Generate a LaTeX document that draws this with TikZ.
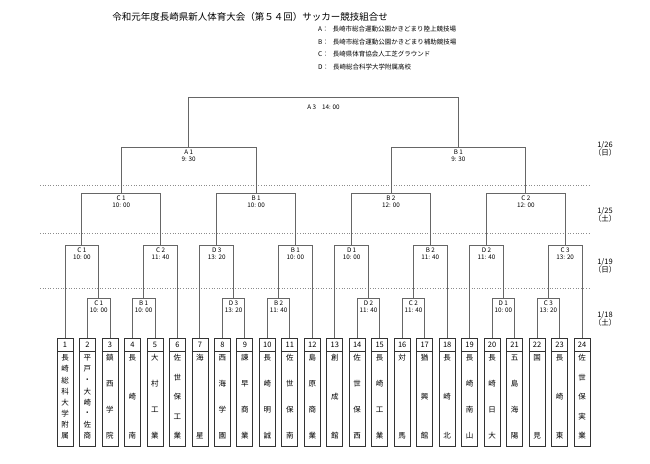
\documentclass[tikz,border=0pt]{standalone}
\usepackage{fontspec}
\setmainfont{Noto Sans CJK JP}
\usetikzlibrary{calc}
\tikzset{
 br/.style={draw=black!60, line width=0.8pt},
 lab/.style={font=\fontsize{6.3}{7.3}\selectfont, align=center, anchor=north, inner sep=1pt},
 team/.style={draw=black!80, line width=0.7pt},
 tname/.style={font=\fontsize{7.5}{8}\selectfont, inner sep=0pt},
 dots/.style={draw=black!45, dotted, line width=0.6pt},
 date/.style={font=\fontsize{7.5}{8.5}\selectfont, align=center}
}
\newcommand{\mymatch}[6]{% name, left, right, y, l1, l2
 \coordinate (#1tmp) at ($(#2)!0.5!(#3)$);
 \coordinate (#1) at (#1tmp |- 0,#4);
 \draw[br] (#2) -- (#2 |- #1) -- (#3 |- #1) -- (#3);
 \node[lab] (#1lab) at ($(#1)+(0,1.5)$) {#5\\#6};
}
\begin{document}
\begin{tikzpicture}[x=1pt,y=-1pt]
\useasboundingbox (0,0) rectangle (650,463);
\node[font=\fontsize{9.5}{10}\selectfont] (title) at (250,17) {令和元年度長崎県新人体育大会（第５４回）サッカー競技組合せ};
\foreach \k/\t [count=\i] in {A/長崎市総合運動公園かきどまり陸上競技場,B/長崎市総合運動公園かきどまり補助競技場,C/長崎県体育協会人工芝グラウンド,D/長崎総合科学大学附属高校}{
 \node[anchor=west, font=\fontsize{6.5}{7}\selectfont, inner sep=0pt] (v\i) at (318,17+12.5*\i) {\k ：\hspace{4pt}\t};
}
% dotted lines
\foreach \y/\n in {185/a,233/b,288/c}{\coordinate (dl\n) at (40,\y); \coordinate (dr\n) at (590,\y); \draw[dots] (dl\n) -- (dr\n);}
% dates
\node[date] (d1) at (605,149) {1/26\\（日）};
\node[date] (d2) at (605,215) {1/25\\（土）};
\node[date] (d3) at (605,266) {1/19\\（日）};
\node[date] (d4) at (605,319) {1/18\\（土）};
% teams
\foreach \nm/\len [count=\i] in {{長,崎,総,科,大,学,附,属}/8,{平,戸,・,大,崎,・,佐,商}/8,{鎮,西,学,院}/4,{長,崎,南}/3,{大,村,工,業}/4,{佐,世,保,工,業}/5,{海,星}/2,{西,海,学,園}/4,{諫,早,商,業}/4,{長,崎,明,誠}/4,{佐,世,保,南}/4,{島,原,商,業}/4,{創,成,館}/3,{佐,世,保,西}/4,{長,崎,工,業}/4,{対,馬}/2,{猶,興,館}/3,{長,崎,北}/3,{長,崎,南,山}/4,{長,崎,日,大}/4,{五,島,海,陽}/4,{国,見}/2,{長,崎,東}/3,{佐,世,保,実,業}/5}{
 \pgfmathsetmacro{\xx}{65+(\i-1)*22.48}
 \pgfmathsetmacro{\dy}{78/(\len-1)}
 \coordinate (t\i) at (\xx,338);
 \draw[team] (\xx-8,338) rectangle (\xx+8,446);
 \node[tname] (n\i) at (\xx,345) {\i};
 \draw[team] (\xx-8,351) -- (\xx+8,351);
 \foreach \c [count=\j] in \nm {
  \node[tname] (c\i-\j) at (\xx,{358+(\j-1)*\dy}) {\c};
 }
}
% round 1
\mymatch{m23}{t2}{t3}{298}{C 1}{10: 00}
\mymatch{m45}{t4}{t5}{298}{B 1}{10: 00}
\mymatch{m89}{t8}{t9}{298}{D 3}{13: 20}
\mymatch{m1011}{t10}{t11}{298}{B 2}{11: 40}
\mymatch{m1415}{t14}{t15}{298}{D 2}{11: 40}
\mymatch{m1617}{t16}{t17}{298}{C 2}{11: 40}
\mymatch{m2021}{t20}{t21}{298}{D 1}{10: 00}
\mymatch{m2223}{t22}{t23}{298}{C 3}{13: 20}
% round 2
\mymatch{r1}{t1}{m23}{245}{C 1}{10: 00}
\mymatch{r2}{m45}{t6}{245}{C 2}{11: 40}
\mymatch{r3}{t7}{m89}{245}{D 3}{13: 20}
\mymatch{r4}{m1011}{t12}{245}{B 1}{10: 00}
\mymatch{r5}{t13}{m1415}{245}{D 1}{10: 00}
\mymatch{r6}{m1617}{t18}{245}{B 2}{11: 40}
\mymatch{r7}{t19}{m2021}{245}{D 2}{11: 40}
\mymatch{r8}{m2223}{t24}{245}{C 3}{13: 20}
% round 3
\mymatch{q1}{r1}{r2}{193}{C 1}{10: 00}
\mymatch{q2}{r3}{r4}{193}{B 1}{10: 00}
\mymatch{q3}{r5}{r6}{193}{B 2}{12: 00}
\mymatch{q4}{r7}{r8}{193}{C 2}{12: 00}
% round 4
\mymatch{s1}{q1}{q2}{147}{A 1}{9: 30}
\mymatch{s2}{q3}{q4}{147}{B 1}{9: 30}
% final
\coordinate (ftmp) at ($(s1)!0.5!(s2)$);
\coordinate (f) at (ftmp |- 0,97);
\draw[br] (s1) -- (s1 |- f) -- (s2 |- f) -- (s2);
\node[lab] (flab) at ($(f)+(0,7)$) {A 3\hspace{6pt}14: 00};
\end{tikzpicture}
\end{document}
